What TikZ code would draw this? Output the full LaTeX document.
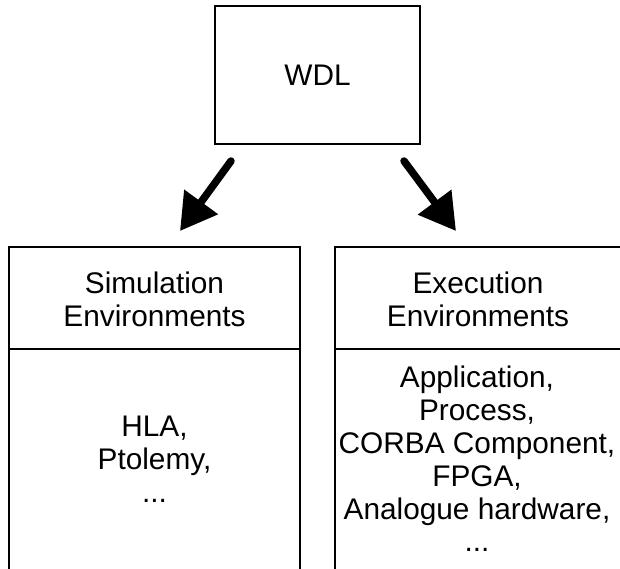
\documentclass[tikz,border=0pt]{standalone}
\usepackage{fontspec}
\setmainfont{Liberation Sans}
\usetikzlibrary{arrows.meta}
\begin{document}
\begin{tikzpicture}[x=1pt,y=-1pt,
  boxline/.style={line width=1.3pt,line cap=rect},
  label/.style={inner sep=0pt,align=center,font=\fontsize{29.8}{32.8}\selectfont},
  bigarrow/.style={line width=7.5pt,line cap=round,
    -{Triangle[length=36pt,width=40pt]}}]
\useasboundingbox (0,0) rectangle (620,569);

% top box
\node[boxline,draw,minimum width=205pt,minimum height=138pt,inner sep=0pt,
      font=\fontsize{29.8}{32.8}\selectfont] (wdl) at (317.5,75) {WDL};

% arrow ends
\coordinate (ltail) at (231,161);
\coordinate (ltip)  at (180,231);
\coordinate (rtail) at (404,161);
\coordinate (rtip)  at (456,231);
\draw[bigarrow] (ltail) -- (ltip);
\draw[bigarrow] (rtail) -- (rtip);

% left column
\draw[boxline] (9,569) -- (9,247) -- (300,247) -- (300,569);
\draw[boxline] (9,349) -- (300,349);
\node[label] (simhead) at (154.5,299) {Simulation\\Environments};
\node[label] (simbody) at (154.5,459) {HLA,\\Ptolemy,\\...};

% right column
\draw[boxline] (335,569) -- (335,247) -- (622,247);
\draw[boxline] (335,349) -- (622,349);
\node[label] (exehead) at (478,299) {Execution\\Environments};
\node[label] (exebody) at (477,459) {Application,\\Process,\\CORBA Component,\\FPGA,\\Analogue hardware,\\...};
\end{tikzpicture}
\end{document}
